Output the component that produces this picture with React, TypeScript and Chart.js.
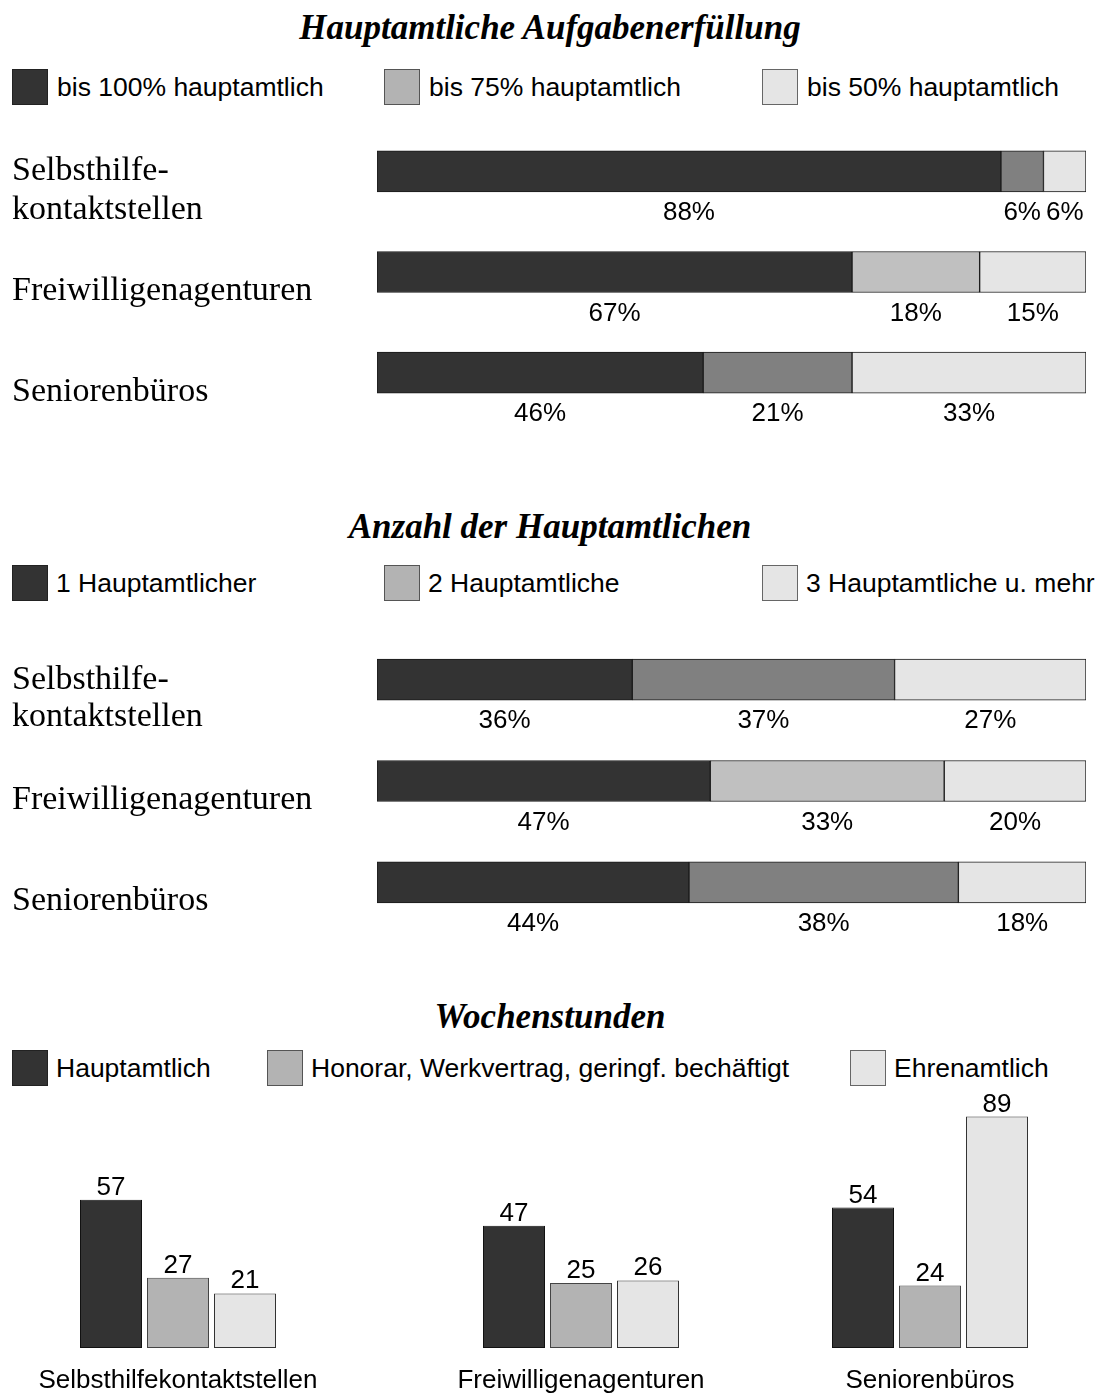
import React, { useEffect, useRef } from "react";
import { Chart, registerables } from "chart.js";

Chart.register(...registerables);

const SANS = "Arial, 'Liberation Sans', sans-serif";
const SERIF = "'Times New Roman', 'Liberation Serif', serif";

// ---------- data ----------
const orgLabels: (string | string[])[] = [["Selbsthilfe-", "kontaktstellen"], "Freiwilligenagenturen", "Seniorenbüros"];

const taskTitle = "Hauptamtliche Aufgabenerfüllung";
const taskSeries = ["bis 100% hauptamtlich", "bis 75% hauptamtlich", "bis 50% hauptamtlich"];
const taskFull = [88, 67, 46];
const task75 = [6, 18, 21];
const task50 = [6, 15, 33];

const staffTitle = "Anzahl der Hauptamtlichen";
const staffSeries = ["1 Hauptamtlicher", "2 Hauptamtliche", "3 Hauptamtliche u. mehr"];
const staff1 = [36, 47, 44];
const staff2 = [37, 33, 38];
const staff3 = [27, 20, 18];

const hoursTitle = "Wochenstunden";
const hoursCategories = ["Selbsthilfekontaktstellen", "Freiwilligenagenturen", "Seniorenbüros"];
const hoursSeries = ["Hauptamtlich", "Honorar, Werkvertrag, geringf. bechäftigt", "Ehrenamtlich"];
const hoursMain = [57, 47, 54];
const hoursFee = [27, 25, 24];
const hoursVolunteer = [21, 26, 89];

// ---------- styles ----------
const DARK = "#333333";
const MID = "#808080";
const MID_LIGHT = "#c0c0c0";
const LEGEND_MID = "#b3b3b3";
const LIGHT = "#e5e5e5";
const midRowColors = [MID, MID_LIGHT, MID];
const legendColors = [DARK, LEGEND_MID, LIGHT];
const legendBorders = ["#222222", "#555555", "#666666"];

const belowLabels = {
  id: "belowLabels",
  afterDatasetsDraw(chart: any) {
    const ctx = chart.ctx;
    ctx.save();
    ctx.font = `26px ${SANS}`;
    ctx.fillStyle = "#000";
    ctx.textAlign = "center";
    ctx.textBaseline = "alphabetic";
    chart.data.datasets.forEach((ds: any, di: number) => {
      const meta = chart.getDatasetMeta(di);
      meta.data.forEach((bar: any, i: number) => {
        const p = bar.getProps(["x", "y", "base", "height"], true);
        ctx.fillText(ds.data[i] + "%", (p.x + p.base) / 2, p.y + p.height / 2 + 28);
      });
    });
    ctx.restore();
  },
};

const aboveLabels = {
  id: "aboveLabels",
  afterDatasetsDraw(chart: any) {
    const ctx = chart.ctx;
    ctx.save();
    ctx.font = `26px ${SANS}`;
    ctx.fillStyle = "#000";
    ctx.textAlign = "center";
    ctx.textBaseline = "alphabetic";
    chart.data.datasets.forEach((ds: any, di: number) => {
      const meta = chart.getDatasetMeta(di);
      meta.data.forEach((bar: any, i: number) => {
        const p = bar.getProps(["x", "y"], true);
        ctx.fillText(String(ds.data[i]), p.x, p.y - 5);
      });
    });
    ctx.restore();
  },
};

function stackedConfig(names: string[], a: number[], b: number[], c: number[], lineHeight: number) {
  const mk = (label: string, data: number[], bg: string | string[]) => ({
    label,
    data,
    backgroundColor: bg,
    borderColor: "#1a1a1a",
    borderWidth: 1,
    borderSkipped: false,
    barThickness: 41,
  });
  return {
    type: "bar",
    data: {
      labels: orgLabels,
      datasets: [mk(names[0], a, DARK), mk(names[1], b, midRowColors), mk(names[2], c, LIGHT)],
    },
    options: {
      indexAxis: "y",
      responsive: false,
      animation: false,
      devicePixelRatio: 1,
      layout: { padding: { left: 12, right: 14, top: 0, bottom: 30 } },
      plugins: { legend: { display: false }, tooltip: { enabled: false }, title: { display: false } },
      scales: {
        x: { stacked: true, min: 0, max: 100, display: false },
        y: {
          stacked: true,
          grid: { display: false, drawTicks: false },
          border: { display: false },
          afterFit(scale: any) {
            scale.width = 365;
            scale.paddingTop = 0;
            scale.paddingBottom = 0;
          },
          ticks: {
            crossAlign: "far",
            padding: 0,
            labelOffset: 19,
            color: "#000",
            font: { family: SERIF, size: 34, lineHeight },
          },
        },
      },
    },
    plugins: [belowLabels],
  };
}

function groupConfig(idx: number) {
  const mk = (label: string, v: number, bg: string, bc: string) => ({
    label,
    data: [v],
    backgroundColor: bg,
    borderColor: bc,
    borderWidth: 1,
    borderSkipped: false,
    categoryPercentage: 201 / 340,
    barPercentage: 62 / 67,
  });
  return {
    type: "bar",
    data: {
      labels: [hoursCategories[idx]],
      datasets: [
        mk(hoursSeries[0], hoursMain[idx], DARK, "#111111"),
        mk(hoursSeries[1], hoursFee[idx], LEGEND_MID, "#444444"),
        mk(hoursSeries[2], hoursVolunteer[idx], LIGHT, "#333333"),
      ],
    },
    options: {
      responsive: false,
      animation: false,
      devicePixelRatio: 1,
      layout: { padding: { left: 0, right: 0, top: 10, bottom: 0 } },
      plugins: { legend: { display: false }, tooltip: { enabled: false }, title: { display: false } },
      scales: {
        y: { min: 0, max: 100, display: false },
        x: {
          grid: { display: false, drawTicks: false },
          border: { display: false },
          afterFit(scale: any) {
            scale.height = 48;
            scale.paddingLeft = 0;
            scale.paddingRight = 0;
          },
          ticks: {
            padding: 17,
            maxRotation: 0,
            color: "#000",
            font: { family: SANS, size: 26 },
          },
        },
      },
    },
    plugins: [aboveLabels],
  };
}

function ChartCanvas(props: { make: () => any; left: number; top: number; width: number; height: number }) {
  const ref = useRef<HTMLCanvasElement>(null);
  useEffect(() => {
    const chart = new Chart(ref.current as HTMLCanvasElement, props.make());
    return () => chart.destroy();
  }, []);
  return (
    <canvas
      ref={ref}
      width={props.width}
      height={props.height}
      style={{ position: "absolute", left: props.left, top: props.top, width: props.width, height: props.height, display: "block" }}
    />
  );
}

function Title(props: { text: string; centerY: number }) {
  return (
    <div
      style={{
        position: "absolute",
        left: 0,
        width: 1100,
        top: props.centerY - 20,
        height: 40,
        lineHeight: "40px",
        textAlign: "center",
        font: `italic bold 35px ${SERIF}`,
        color: "#000",
        whiteSpace: "nowrap",
      }}
    >
      {props.text}
    </div>
  );
}

function Legend(props: { items: string[]; lefts: number[]; centerY: number; gap: number }) {
  return (
    <>
      {props.items.map((t, i) => (
        <div
          key={i}
          style={{
            position: "absolute",
            left: props.lefts[i],
            top: props.centerY - 18,
            height: 36,
            display: "flex",
            alignItems: "center",
            whiteSpace: "nowrap",
          }}
        >
          <div
            style={{
              width: 34,
              height: 34,
              background: legendColors[i],
              border: `1px solid ${legendBorders[i]}`,
              marginRight: props.gap,
              flex: "none",
            }}
          />
          <span style={{ font: `26.5px ${SANS}`, color: "#000", lineHeight: "36px" }}>{t}</span>
        </div>
      ))}
    </>
  );
}

export default function App() {
  return (
    <div style={{ position: "absolute", left: 0, top: 0, width: 1100, height: 1393, background: "#fff", overflow: "hidden" }}>
      <Title text={taskTitle} centerY={28} />
      <Legend items={taskSeries} lefts={[12, 384, 762]} centerY={87} gap={9} />
      <ChartCanvas
        make={() => stackedConfig(taskSeries, taskFull, task75, task50, 1.15)}
        left={0}
        top={121}
        width={1100}
        height={332}
      />

      <Title text={staffTitle} centerY={527} />
      <Legend items={staffSeries} lefts={[12, 384, 762]} centerY={583} gap={8} />
      <ChartCanvas
        make={() => stackedConfig(staffSeries, staff1, staff2, staff3, 1.1)}
        left={0}
        top={629}
        width={1100}
        height={334}
      />

      <Title text={hoursTitle} centerY={1017} />
      <Legend items={hoursSeries} lefts={[12, 267, 850]} centerY={1068} gap={8} />
      <ChartCanvas make={() => groupConfig(0)} left={8} top={1078} width={340} height={318} />
      <ChartCanvas make={() => groupConfig(1)} left={411} top={1078} width={340} height={318} />
      <ChartCanvas make={() => groupConfig(2)} left={760} top={1078} width={340} height={318} />
    </div>
  );
}
